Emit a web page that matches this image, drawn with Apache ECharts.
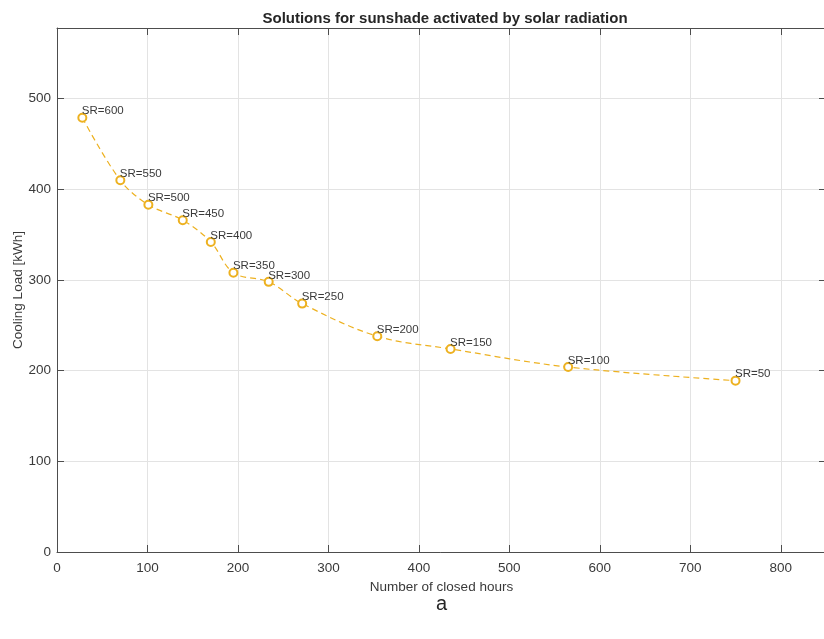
<!DOCTYPE html>
<html>
<head>
<meta charset="utf-8">
<script src="https://cdn.jsdelivr.net/npm/echarts@6/dist/echarts.min.js"></script>
<style>html,body{margin:0;padding:0;background:#fff;}#c{width:824px;height:639px;}</style>
</head>
<body>
<div id="c"></div>
<script>
const closedHours = [28, 70, 101, 139, 170, 195, 234, 271, 354, 435, 565, 750];
const coolingLoad = [479, 410, 383, 366, 342, 308, 298, 274, 238, 224, 204, 189];
const srLabels = ['SR=600','SR=550','SR=500','SR=450','SR=400','SR=350','SR=300','SR=250','SR=200','SR=150','SR=100','SR=50'];
const xTicks = [0, 100, 200, 300, 400, 500, 600, 700, 800];
const yTicks = [0, 100, 200, 300, 400, 500];

const FONT = '"Liberation Sans", Arial, sans-serif';
const TXT = '#3a3a3a';
const AX = '#4d4d4d';
const GRID = '#e3e3e3';
const COL = '#EDB120';

const chart = echarts.init(document.getElementById('c'), null, {renderer: 'canvas'});
const fmtX = v => xTicks.indexOf(v) >= 0 ? String(v) : '';
const fmtY = v => yTicks.indexOf(v) >= 0 ? String(v) : '';

chart.setOption({
  backgroundColor: '#fff',
  animation: false,
  textStyle: {fontFamily: FONT},
  title: {
    text: 'Solutions for sunshade activated by solar radiation',
    left: 440, textAlign: 'center', top: 6,
    textStyle: {fontFamily: FONT, fontSize: 15, fontWeight: 'bold', color: '#262626'}
  },
  graphic: [{
    type: 'text', left: 436, top: 594,
    style: {text: 'a', font: '20px "Liberation Sans", Arial, sans-serif', fill: '#262626'}
  }],
  grid: {left: 57, right: -2, top: 28, bottom: 87, containLabel: false, outerBoundsMode: 'none'},
  xAxis: [{
    type: 'value', position: 'bottom', min: 0, max: 850, interval: 100,
    name: 'Number of closed hours', nameLocation: 'middle', nameGap: 28, nameMoveOverlap: false,
    nameTextStyle: {fontFamily: FONT, fontSize: 13.5, color: TXT},
    axisLine: {show: true, onZero: false, lineStyle: {color: AX, width: 1}},
    axisTick: {show: true, inside: true, length: 7, lineStyle: {color: AX}},
    axisLabel: {formatter: fmtX, fontSize: 13.5, color: TXT, margin: 9, showMaxLabel: false},
    splitLine: {show: true, lineStyle: {color: GRID, width: 1}}
  }, {
    type: 'value', position: 'top', min: 0, max: 850, interval: 100,
    axisLine: {show: true, onZero: false, lineStyle: {color: AX, width: 1}},
    axisTick: {show: true, inside: true, length: 7, lineStyle: {color: AX}},
    axisLabel: {show: false},
    splitLine: {show: false}
  }],
  yAxis: [{
    type: 'value', position: 'left', min: 0, max: 578, interval: 100,
    name: 'Cooling Load [kWh]', nameLocation: 'middle', nameGap: 32, nameRotate: 90, nameMoveOverlap: false,
    nameTextStyle: {fontFamily: FONT, fontSize: 13.5, color: TXT},
    axisLine: {show: true, onZero: false, lineStyle: {color: AX, width: 1}},
    axisTick: {show: true, inside: true, length: 7, lineStyle: {color: AX}},
    axisLabel: {formatter: fmtY, fontSize: 13.5, color: TXT, margin: 6, showMaxLabel: false},
    splitLine: {show: true, lineStyle: {color: GRID, width: 1}}
  }, {
    type: 'value', position: 'right', min: 0, max: 578, interval: 100,
    axisLine: {show: true, onZero: false, lineStyle: {color: AX, width: 1}},
    axisTick: {show: true, inside: true, length: 7, lineStyle: {color: AX}},
    axisLabel: {show: false},
    splitLine: {show: false}
  }],
  series: [{
    type: 'line',
    xAxisIndex: 0, yAxisIndex: 0,
    data: closedHours.map((x, i) => [x, coolingLoad[i]]),
    smooth: 0.35,
    symbol: 'emptyCircle', symbolSize: 8,
    itemStyle: {color: COL, borderColor: COL, borderWidth: 0.9},
    lineStyle: {color: COL, width: 1.2, type: [6, 4]},
    label: {
      show: true,
      formatter: p => srLabels[p.dataIndex],
      position: [4.5, -1.5], align: 'left', verticalAlign: 'middle',
      fontFamily: FONT, fontSize: 11.5, color: TXT
    },
    emphasis: {disabled: true}
  }]
});
</script>
</body>
</html>
